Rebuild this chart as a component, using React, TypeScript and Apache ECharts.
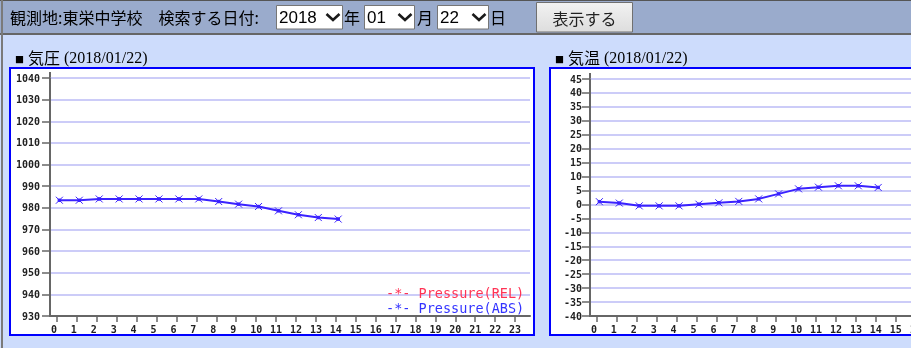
import React, { useEffect, useRef } from 'react';
import * as echarts from 'echarts';

// ---- data ----
const hourTicks = [0, 1, 2, 3, 4, 5, 6, 7, 8, 9, 10, 11, 12, 13, 14, 15, 16, 17, 18, 19, 20, 21, 22, 23];
const obsTimes = [0.12, 1.12, 2.12, 3.12, 4.12, 5.12, 6.12, 7.12, 8.12, 9.12, 10.12, 11.12, 12.12, 13.12, 14.12];
const pressureABS = [983.5, 983.5, 984.1, 984.1, 984.1, 984.1, 984.1, 984.1, 982.9, 981.7, 980.6, 978.6, 976.8, 975.5, 974.8];
const pressureREL: number[] = [];
const temperature = [1.0, 0.5, -0.5, -0.5, -0.5, 0.1, 0.6, 1.1, 2.0, 3.8, 5.6, 6.2, 6.7, 6.7, 6.1];
const pressureRange = [930, 1040];
const pressureStep = 10;
const tempRange = [-40, 45];
const tempStep = 5;
const dateText = '(2018/01/22)';

const W = 1100;
const H = 348;

const lineColor = '#3a22ff';
const axisColor = '#666666';
const gridColor = '#ccccf8';
const markerPath = 'path://M0 0L8 8M8 0L0 8M2.6 2.6H5.4V5.4H2.6Z';

const labelFont = {
  fontFamily: '"DejaVu Sans Mono", monospace',
  fontSize: 10,
  fontWeight: 'bold' as const,
  color: '#222222',
};

const cjk = '"Noto Sans CJK JP", sans-serif';

function makeXAxis(gridIndex: number) {
  return {
    gridIndex,
    type: 'value',
    min: -0.35,
    max: 23.75,
    axisLine: { show: true, onZero: false, lineStyle: { color: axisColor, width: 2 } },
    axisTick: { show: true, customValues: hourTicks, length: 6, lineStyle: { color: axisColor, width: 1.5 } },
    axisLabel: {
      customValues: hourTicks,
      margin: 8,
      ...labelFont,
      formatter: (v: number) => (v < 10 ? v + '\u00a0' : '' + v),
    },
    splitLine: { show: false },
  };
}

function makeYAxis(gridIndex: number, range: number[], step: number, margin: number) {
  return {
    gridIndex,
    type: 'value',
    min: range[0],
    max: range[1],
    interval: step,
    axisLine: { show: true, onZero: false, lineStyle: { color: axisColor, width: 2 } },
    axisTick: { show: true, length: 8, lineStyle: { color: axisColor, width: 1.5 } },
    axisLabel: { margin, ...labelFont, formatter: (v: number) => String(v) },
    splitLine: { show: true, lineStyle: { color: gridColor, width: 2 } },
  };
}

function selectBox(x: number, w: number, label: string) {
  const cx = x + w - 9;
  return [
    { type: 'rect', shape: { x: x + 0.5, y: 5.5, width: w, height: 23.5 }, style: { fill: '#ffffff', stroke: '#767676', lineWidth: 1 } },
    { type: 'text', x: x + 3, y: 17.5, style: { text: label, font: '17px "Liberation Sans", Arial, sans-serif', fill: '#000000', textVerticalAlign: 'middle' } },
    { type: 'polyline', shape: { points: [[cx - 6.5, 14], [cx, 20], [cx + 6.5, 14]] }, style: { stroke: '#1a1a1a', lineWidth: 2.6, fill: 'none' } },
  ];
}

function titleEls(x: number, name: string) {
  return [
    { type: 'text', x: x, y: 59.5, style: { text: '■', font: '9px ' + cjk, fill: '#000000', textVerticalAlign: 'middle' } },
    { type: 'text', x: x + 13, y: 56.5, style: { text: name, font: '16px ' + cjk, fill: '#000000', textVerticalAlign: 'middle' } },
    { type: 'text', x: x + 49, y: 57.5, style: { text: dateText, font: '16px "Liberation Serif", "Times New Roman", serif', fill: '#000000', textVerticalAlign: 'middle' } },
  ];
}

export default function App() {
  const ref = useRef<HTMLDivElement>(null);
  useEffect(() => {
    const chart = echarts.init(ref.current!, null, { renderer: 'svg' });
    const option: any = {
      animation: false,
      grid: [
        { left: 50, top: 78, width: 480, height: 238 },
        { left: 590, top: 79, width: 480, height: 237 },
      ],
      xAxis: [makeXAxis(0), makeXAxis(1)],
      yAxis: [makeYAxis(0, pressureRange, pressureStep, 10), makeYAxis(1, tempRange, tempStep, 8)],
      legend: {
        data: [
          { name: 'Pressure(REL)', textStyle: { color: '#ff3355' } },
          { name: 'Pressure(ABS)', textStyle: { color: '#3333ff' } },
        ],
        orient: 'vertical',
        left: 381,
        top: 285.5,
        padding: 0,
        itemGap: 1,
        itemWidth: 0,
        itemHeight: 12,
        icon: 'none',
        selectedMode: false,
        align: 'left',
        formatter: '-*- {name}',
        textStyle: { fontFamily: '"DejaVu Sans Mono", monospace', fontSize: 13.5, lineHeight: 12 },
      },
      graphic: {
        elements: [
          { type: 'rect', z: -10, shape: { x: 0, y: 0, width: W, height: H }, style: { fill: '#cddcfc' } },
          { type: 'rect', z: -9, shape: { x: 0, y: 0, width: W, height: 33 }, style: { fill: '#9aabcc' } },
          { type: 'rect', z: -8, shape: { x: 0, y: 0, width: W, height: 1 }, style: { fill: '#555555' } },
          { type: 'rect', z: -8, shape: { x: 0, y: 33, width: W, height: 2 }, style: { fill: '#666666' } },
          { type: 'rect', z: -8, shape: { x: 1, y: 0, width: 2, height: H }, style: { fill: '#7a7a7a' } },
          { type: 'rect', z: -7, shape: { x: 10, y: 68, width: 524, height: 267 }, style: { fill: '#ffffff', stroke: '#0000ff', lineWidth: 2 } },
          { type: 'rect', z: -7, shape: { x: 550, y: 68, width: 524, height: 267 }, style: { fill: '#ffffff', stroke: '#0000ff', lineWidth: 2 } },
          { type: 'text', x: 10, y: 17, style: { text: '観測地:東栄中学校　検索する日付:', font: '16px ' + cjk, fill: '#000000', textVerticalAlign: 'middle' } },
          ...selectBox(276, 66, '2018'),
          { type: 'text', x: 344, y: 17, style: { text: '年', font: '16px ' + cjk, fill: '#000000', textVerticalAlign: 'middle' } },
          ...selectBox(364, 50, '01'),
          { type: 'text', x: 417, y: 17, style: { text: '月', font: '16px ' + cjk, fill: '#000000', textVerticalAlign: 'middle' } },
          ...selectBox(437, 51, '22'),
          { type: 'text', x: 490, y: 17, style: { text: '日', font: '16px ' + cjk, fill: '#000000', textVerticalAlign: 'middle' } },
          {
            type: 'rect',
            shape: { x: 536.5, y: 2.5, width: 96, height: 29.5 },
            style: {
              fill: new echarts.graphic.LinearGradient(0, 0, 0, 1, [
                { offset: 0, color: '#f2f2f2' },
                { offset: 1, color: '#dddddd' },
              ]),
              stroke: '#707070',
              lineWidth: 1,
            },
          },
          { type: 'text', x: 584.5, y: 18, style: { text: '表示する', font: '16px ' + cjk, fill: '#222222', textAlign: 'center', textVerticalAlign: 'middle' } },
          ...titleEls(15, '気圧'),
          ...titleEls(555, '気温'),
          { type: 'line', shape: { x1: 50, y1: 72, x2: 50, y2: 78 }, style: { stroke: axisColor, lineWidth: 2 } },
          { type: 'line', shape: { x1: 590, y1: 73, x2: 590, y2: 79 }, style: { stroke: axisColor, lineWidth: 2 } },
        ],
      },
      series: [
        {
          name: 'Pressure(REL)',
          type: 'line',
          xAxisIndex: 0,
          yAxisIndex: 0,
          data: pressureREL.map((v, i) => [obsTimes[i], v]),
          symbol: markerPath,
          symbolSize: 7,
          lineStyle: { color: '#ff3355', width: 2 },
          itemStyle: { color: '#ff3355', borderColor: '#ff3355', borderWidth: 1 },
        },
        {
          name: 'Pressure(ABS)',
          type: 'line',
          xAxisIndex: 0,
          yAxisIndex: 0,
          data: pressureABS.map((v, i) => [obsTimes[i], v]),
          symbol: markerPath,
          symbolSize: 7,
          showAllSymbol: true,
          lineStyle: { color: lineColor, width: 2 },
          itemStyle: { color: lineColor, borderColor: lineColor, borderWidth: 1 },
        },
        {
          name: 'Temperature',
          type: 'line',
          xAxisIndex: 1,
          yAxisIndex: 1,
          data: temperature.map((v, i) => [obsTimes[i], v]),
          symbol: markerPath,
          symbolSize: 7,
          showAllSymbol: true,
          lineStyle: { color: lineColor, width: 2 },
          itemStyle: { color: lineColor, borderColor: lineColor, borderWidth: 1 },
        },
      ],
    };
    chart.setOption(option);
    return () => chart.dispose();
  }, []);
  return (
    <div style={{ position: 'fixed', left: 0, top: 0, width: 911, height: H, overflow: 'hidden' }}>
      <div ref={ref} style={{ width: W, height: H }} />
    </div>
  );
}
